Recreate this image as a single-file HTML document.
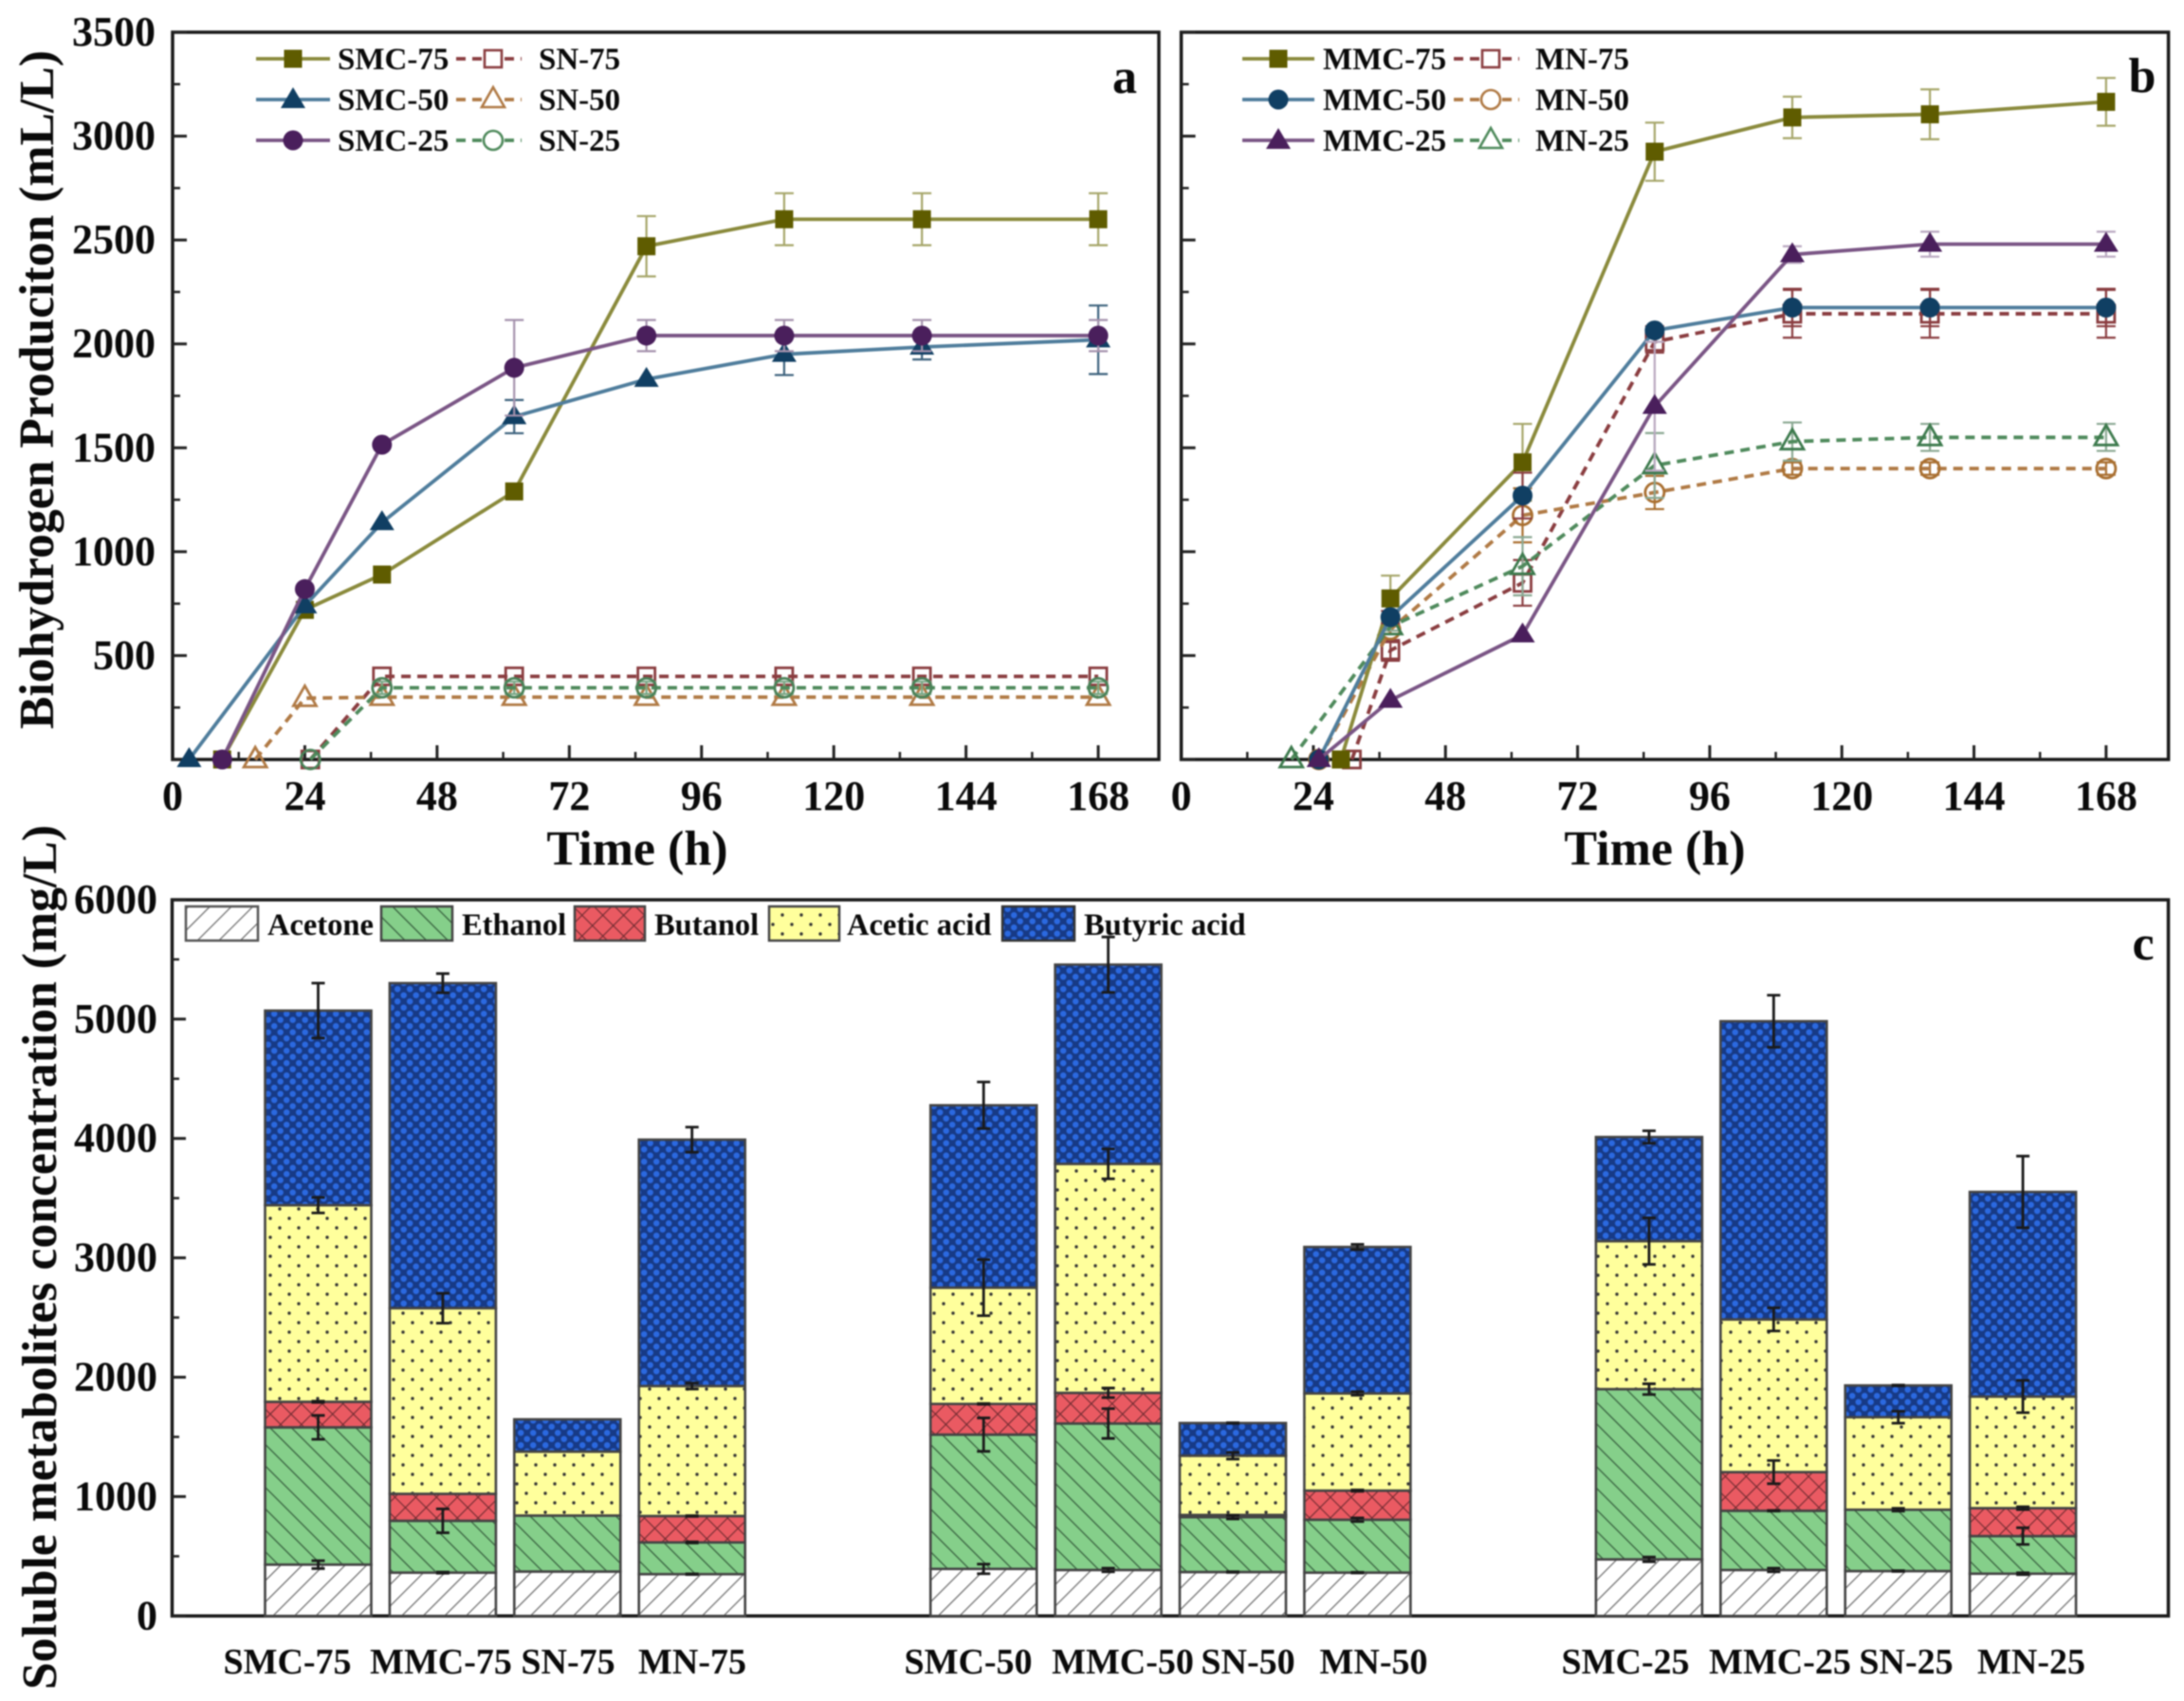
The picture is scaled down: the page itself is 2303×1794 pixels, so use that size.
<!DOCTYPE html>
<html lang="en">
<head>
<meta charset="utf-8">
<title>Biohydrogen production and soluble metabolites</title>
<style>
html,body{margin:0;padding:0;background:#fff;width:2303px;height:1794px;overflow:hidden}
svg{display:block;filter:blur(.9px)}
text{font-family:"Liberation Serif",serif;font-weight:bold;fill:#0a0a0a}
.leg{font-size:33px}
.cat{font-size:38px}
.tick{font-size:44px}
.ttl{font-size:52px}
.let{font-size:52px}
.lc{font-size:32.5px}
</style>
</head>
<body>
<svg id="chart" xmlns="http://www.w3.org/2000/svg" width="2303" height="1794" viewBox="0 0 2303 1794">
<defs>
  <pattern id="p-acetone" patternUnits="userSpaceOnUse" width="16" height="16" patternTransform="rotate(45)">
    <rect width="16" height="16" fill="#fff"/><line x1="0" y1="0" x2="0" y2="16" stroke="#666" stroke-width="2.4"/>
  </pattern>
  <pattern id="p-ethanol" patternUnits="userSpaceOnUse" width="16" height="16" patternTransform="rotate(-45)">
    <rect width="16" height="16" fill="#85cf8a"/><line x1="0" y1="0" x2="0" y2="16" stroke="#33593a" stroke-width="2.4"/>
  </pattern>
  <pattern id="p-butanol" patternUnits="userSpaceOnUse" width="15.5" height="15.5" patternTransform="rotate(45)">
    <rect width="15.5" height="15.5" fill="#ea5a62"/>
    <line x1="0" y1="0" x2="0" y2="15.5" stroke="#6d2a30" stroke-width="2.2"/>
    <line x1="0" y1="0" x2="15.5" y2="0" stroke="#6d2a30" stroke-width="2.2"/>
  </pattern>
  <pattern id="p-acetic" patternUnits="userSpaceOnUse" width="20" height="20">
    <rect width="20" height="20" fill="#ffff9c"/>
    <circle cx="5" cy="5" r="1.7" fill="#333"/><circle cx="15" cy="15" r="1.7" fill="#333"/>
  </pattern>
  <pattern id="p-butyric" patternUnits="userSpaceOnUse" width="13" height="13">
    <rect width="13" height="13" fill="#173a86"/>
    <circle cx="3.2" cy="3.2" r="3.2" fill="#2b69e0"/><circle cx="9.7" cy="9.7" r="3.2" fill="#2b69e0"/>
  </pattern>
</defs>

<g id="panelA">
  <rect x="182" y="34" width="1040" height="767" fill="#fff" stroke="#1a1a1a" stroke-width="3.5"/>
  <text class="ttl" transform="translate(56,411) rotate(-90)" text-anchor="middle" textLength="716" lengthAdjust="spacingAndGlyphs">Biohydrogen Produciton (mL/L)</text>
  <text class="ttl" x="672" y="912" text-anchor="middle">Time (h)</text>
  <text class="let" x="1186" y="98" text-anchor="middle">a</text>
</g>

<g id="panelB">
  <rect x="1245.6" y="34" width="1041" height="767" fill="#fff" stroke="#1a1a1a" stroke-width="3.5"/>
  <text class="ttl" x="1745" y="912" text-anchor="middle">Time (h)</text>
  <text class="let" x="2259" y="97" text-anchor="middle">b</text>
</g>

<g id="panelC">
  <rect x="181.5" y="949" width="2105" height="755.3" fill="#fff" stroke="#1a1a1a" stroke-width="3.5"/>
  <text class="ttl" transform="translate(59,1326) rotate(-90)" text-anchor="middle" textLength="912" lengthAdjust="spacingAndGlyphs">Soluble metabolites concentration (mg/L)</text>
  <text class="let" x="2260" y="1012" text-anchor="middle">c</text>
</g>

<g>
  <g><line x1="270" x2="348" y1="62" y2="62" stroke="#8a8a3c" stroke-width="3.8"/><rect x="299.5" y="52.5" width="19" height="19" fill="#5f5c00"/><text class="leg" x="356" y="73">SMC-75</text></g>
  <g><line x1="481" x2="550" y1="62" y2="62" stroke="#8a3d40" stroke-width="3.8" stroke-dasharray="10 7"/><rect x="511" y="53" width="18" height="18" fill="#fff" stroke="#8a3d40" stroke-width="2.6"/><text class="leg" x="568" y="73">SN-75</text></g>
  <g><line x1="270" x2="348" y1="105" y2="105" stroke="#4f7d9c" stroke-width="3.8"/><polygon points="309,92 322,114 296,114" fill="#103f63"/><text class="leg" x="356" y="116">SMC-50</text></g>
  <g><line x1="481" x2="550" y1="105" y2="105" stroke="#b07a45" stroke-width="3.8" stroke-dasharray="10 7"/><polygon points="520,92 532,113 508,113" fill="#fff" stroke="#b07a45" stroke-width="2.6"/><text class="leg" x="568" y="116">SN-50</text></g>
  <g><line x1="270" x2="348" y1="148" y2="148" stroke="#7a5585" stroke-width="3.8"/><circle cx="309" cy="148" r="10.5" fill="#4a1f5c"/><text class="leg" x="356" y="159">SMC-25</text></g>
  <g><line x1="481" x2="550" y1="148" y2="148" stroke="#4f8a5c" stroke-width="3.8" stroke-dasharray="10 7"/><circle cx="520" cy="148" r="10" fill="#fff" stroke="#4f8a5c" stroke-width="2.6"/><text class="leg" x="568" y="159">SN-25</text></g>
</g>

<g>
  <g><line x1="1310" x2="1386" y1="62" y2="62" stroke="#8a8a3c" stroke-width="3.8"/><rect x="1338.5" y="52.5" width="19" height="19" fill="#5f5c00"/><text class="leg" x="1395" y="73">MMC-75</text></g>
  <g><line x1="1533" x2="1602" y1="62" y2="62" stroke="#8a3d40" stroke-width="3.8" stroke-dasharray="10 7"/><rect x="1563" y="53" width="18" height="18" fill="#fff" stroke="#8a3d40" stroke-width="2.6"/><text class="leg" x="1619" y="73">MN-75</text></g>
  <g><line x1="1310" x2="1386" y1="105" y2="105" stroke="#4f7d9c" stroke-width="3.8"/><circle cx="1348" cy="105" r="10.5" fill="#103f63"/><text class="leg" x="1395" y="116">MMC-50</text></g>
  <g><line x1="1533" x2="1602" y1="105" y2="105" stroke="#b07a45" stroke-width="3.8" stroke-dasharray="10 7"/><circle cx="1572" cy="105" r="10" fill="#fff" stroke="#b07a45" stroke-width="2.6"/><text class="leg" x="1619" y="116">MN-50</text></g>
  <g><line x1="1310" x2="1386" y1="148" y2="148" stroke="#7a5585" stroke-width="3.8"/><polygon points="1348,135 1361,157 1335,157" fill="#4a1f5c"/><text class="leg" x="1395" y="159">MMC-25</text></g>
  <g><line x1="1533" x2="1602" y1="148" y2="148" stroke="#4f8a5c" stroke-width="3.8" stroke-dasharray="10 7"/><polygon points="1572,135 1584,156 1560,156" fill="#fff" stroke="#4f8a5c" stroke-width="2.6"/><text class="leg" x="1619" y="159">MN-25</text></g>
</g>

<g>
  <g><rect x="196" y="956" width="76" height="36" fill="url(#p-acetone)" stroke="#555" stroke-width="2.5"/><text class="lc" x="282" y="986">Acetone</text></g>
  <g><rect x="402" y="956" width="75" height="36" fill="url(#p-ethanol)" stroke="#444" stroke-width="2.5"/><text class="lc" x="487" y="986">Ethanol</text></g>
  <g><rect x="606" y="956" width="74" height="36" fill="url(#p-butanol)" stroke="#444" stroke-width="2.5"/><text class="lc" x="690" y="986">Butanol</text></g>
  <g><rect x="811" y="956" width="74" height="36" fill="url(#p-acetic)" stroke="#444" stroke-width="2.5"/><text class="lc" x="893" y="986">Acetic acid</text></g>
  <g><rect x="1057" y="956" width="76" height="36" fill="url(#p-butyric)" stroke="#333" stroke-width="2.5"/><text class="lc" x="1143" y="986">Butyric acid</text></g>
</g>
</svg>

<script>
// ---------- Panel a data ----------
const smc75Hours = [9, 24, 38, 62, 86, 111, 136, 168];
const smc75Values = [0, 720, 890, 1290, 2470, 2600, 2600, 2600];
const smc75Errors = [0, 0, 0, 0, 145, 125, 125, 125];
const smc50Hours = [3, 24, 38, 62, 86, 111, 136, 168];
const smc50Values = [0, 740, 1140, 1650, 1830, 1950, 1985, 2020];
const smc50Errors = [0, 0, 0, 80, 0, 100, 60, 165];
const smc25Hours = [9, 24, 38, 62, 86, 111, 136, 168];
const smc25Values = [0, 820, 1515, 1885, 2040, 2040, 2040, 2040];
const smc25Errors = [0, 0, 0, 230, 75, 75, 75, 75];
const sn75Hours = [25, 38, 62, 86, 111, 136, 168];
const sn75Values = [0, 400, 400, 400, 400, 400, 400];
const sn75Errors = [0, 0, 0, 0, 0, 0, 0];
const sn50Hours = [15, 24, 38, 62, 86, 111, 136, 168];
const sn50Values = [0, 295, 300, 300, 300, 300, 300, 300];
const sn50Errors = [0, 0, 0, 0, 0, 0, 0, 0];
const sn25Hours = [25, 38, 62, 86, 111, 136, 168];
const sn25Values = [0, 345, 345, 345, 345, 345, 345];
const sn25Errors = [0, 30, 30, 30, 30, 30, 30];

// ---------- Panel b data ----------
const mmc75Hours = [29, 38, 62, 86, 111, 136, 168];
const mmc75Values = [0, 775, 1430, 2925, 3090, 3105, 3165];
const mmc75Errors = [0, 110, 185, 140, 100, 120, 115];
const mmc50Hours = [25, 38, 62, 86, 111, 136, 168];
const mmc50Values = [0, 685, 1270, 2065, 2175, 2175, 2175];
const mmc50Errors = [0, 30, 110, 20, 90, 90, 90];
const mmc25Hours = [25, 38, 62, 86, 111, 136, 168];
const mmc25Values = [0, 285, 600, 1700, 2430, 2480, 2480];
const mmc25Errors = [0, 0, 0, 310, 40, 60, 60];
const mn75Hours = [31, 38, 62, 86, 111, 136, 168];
const mn75Values = [0, 525, 850, 2010, 2145, 2145, 2145];
const mn75Errors = [0, 50, 110, 52, 115, 115, 115];
const mn50Hours = [25, 38, 62, 86, 111, 136, 168];
const mn50Values = [0, 625, 1175, 1285, 1400, 1400, 1400];
const mn50Errors = [0, 20, 130, 80, 30, 30, 30];
const mn25Hours = [20, 38, 62, 86, 111, 136, 168];
const mn25Values = [0, 640, 930, 1415, 1530, 1550, 1550];
const mn25Errors = [0, 20, 140, 156, 92, 65, 65];

// ---------- Panel c data ----------
const barCategories = ['SMC-75','MMC-75','SN-75','MN-75','SMC-50','MMC-50','SN-50','MN-50','SMC-25','MMC-25','SN-25','MN-25'];
const acetoneValues = [430, 363, 372, 350, 394, 385, 368, 363, 474, 385, 376, 354];
const ethanolValues = [1150, 434, 469, 266, 1125, 1227, 460, 443, 1426, 496, 514, 315];
const butanolValues = [214, 226, 0, 221, 257, 257, 18, 244, 0, 324, 0, 234];
const aceticValues = [1647, 1555, 536, 1089, 974, 1918, 496, 814, 1240, 1279, 775, 935];
const butyricValues = [1630, 2723, 270, 2064, 1528, 1669, 274, 1227, 872, 2498, 266, 1714];
const acetoneErrors = [33, 5, 0, 3, 40, 15, 3, 3, 20, 15, 3, 8];
const ethanolErrors = [100, 100, 0, 5, 140, 125, 15, 15, 45, 3, 12, 70];
const butanolErrors = [5, 0, 0, 3, 3, 40, 0, 6, 0, 97, 0, 12];
const aceticErrors = [65, 125, 0, 25, 235, 125, 28, 15, 195, 97, 50, 135];
const butyricErrors = [230, 80, 0, 105, 195, 232, 3, 22, 52, 218, 3, 300];

// ---------- Tick labels ----------
const lineYTicks = [0, 500, 1000, 1500, 2000, 2500, 3000, 3500];
const lineYLabels = ['', '500', '1000', '1500', '2000', '2500', '3000', '3500'];
const timeTicks = [0, 24, 48, 72, 96, 120, 144, 168];
const barYTicks = [0, 1000, 2000, 3000, 4000, 5000, 6000];

const NS = 'http://www.w3.org/2000/svg';
function make(parent, tag, attrs, content) {
  const node = document.createElementNS(NS, tag);
  for (const key in attrs) node.setAttribute(key, attrs[key]);
  if (content !== undefined) node.textContent = content;
  parent.appendChild(node);
  return node;
}

// ---------- Axis functions ----------
const yLine = v => 801 - v * (767 / 3500);
const xTimeA = h => 182 + h * 5.81;
const xTimeB = h => 1245.6 + h * 5.805;
const yBar = v => 1704.3 - v * 0.1259;
const barCenter = i => 335.5 + (i % 4) * 131.4 + Math.floor(i / 4) * 701.7;
const catLabelCenter = i => [303, 465, 599, 730, 1021, 1184, 1316, 1448.5, 1714, 1877, 2010, 2142][i];

function drawTimeAxis(panel, xFn, left, prefix, showY) {
  const axis = make(panel, 'g', {});
  
  
  timeTicks.forEach((t, i) => {
    const x = xFn(t);
    if (t > 0) {
      const tk = make(axis, 'line', {x1: x, x2: x, y1: 801, y2: 786, stroke: '#222', 'stroke-width': 3});
      
      
      const mk = make(axis, 'line', {x1: xFn(t - 12), x2: xFn(t - 12), y1: 801, y2: 793, stroke: '#222', 'stroke-width': 2.5});
      
      
    }
    const lb = make(axis, 'text', {x: x, y: 854, 'text-anchor': 'middle', 'class': 'tick'}, String(t));
    
    
  });
  lineYTicks.forEach((v, i) => {
    const y = yLine(v);
    const tk = make(axis, 'line', {x1: left, x2: left + 15, y1: y, y2: y, stroke: '#222', 'stroke-width': 3});
    
    
    if (i < lineYTicks.length - 1) {
      const my = yLine(v + 250);
      const mk = make(axis, 'line', {x1: left, x2: left + 8, y1: my, y2: my, stroke: '#222', 'stroke-width': 2.5});
      
      
    }
    if (showY && lineYLabels[i]) {
      const lb = make(axis, 'text', {x: 164, y: y + 14, 'text-anchor': 'end', 'class': 'tick'}, lineYLabels[i]);
      
      
    }
  });
}

function drawMarker(g, shape, cx, cy, color, hollow) {
  const fill = hollow ? 'none' : color;
  const stroke = hollow ? color : 'none';
  const sw = hollow ? 2.8 : 0;
  if (shape === 'square') {
    const s = hollow ? 18 : 19;
    return make(g, 'rect', {x: cx - s / 2, y: cy - s / 2, width: s, height: s, fill: fill, stroke: stroke, 'stroke-width': sw});
  }
  if (shape === 'circle') {
    return make(g, 'circle', {cx: cx, cy: cy, r: hollow ? 10 : 10.5, fill: fill, stroke: stroke, 'stroke-width': sw});
  }
  const h = hollow ? 12 : 13;
  return make(g, 'polygon', {points: `${cx},${cy - 13} ${cx + h},${cy + 8} ${cx - h},${cy + 8}`, fill: fill, stroke: stroke, 'stroke-width': sw});
}

function drawSeries(panel, xFn, name, hours, values, errors, lineColor, markColor, errColor, shape, hollow) {
  const g = make(panel, 'g', {});
  
  
  const pts = hours.map((h, i) => xFn(h) + ',' + yLine(values[i])).join(' ');
  hours.forEach((h, i) => {
    if (!errors[i]) return;
    const x = xFn(h), y1 = yLine(values[i] + errors[i]), y2 = yLine(values[i] - errors[i]);
    const eb = make(g, 'path', {d: `M${x - 10} ${y1}H${x + 10}M${x} ${y1}V${y2}M${x - 10} ${y2}H${x + 10}`, fill: 'none', stroke: errColor, 'stroke-width': 2.2});
    
    
  });
  const attrs = {points: pts, fill: 'none', stroke: lineColor, 'stroke-width': 3.8};
  if (hollow) attrs['stroke-dasharray'] = '10 7';
  const line = make(g, 'polyline', attrs);
  
  
  hours.forEach((h, i) => {
    const m = drawMarker(g, shape, xFn(h), yLine(values[i]), markColor, hollow);
    
    
  });
}

const panelA = document.getElementById('panelA');
const panelB = document.getElementById('panelB');
const panelC = document.getElementById('panelC');

drawTimeAxis(panelA, xTimeA, 182, 'panel-a', true);
drawTimeAxis(panelB, xTimeB, 1245.6, 'panel-b', false);

drawSeries(panelA, xTimeA, 'sn-75', sn75Hours, sn75Values, sn75Errors, '#8a3d40', '#8a3d40', '#a06a6c', 'square', true);
drawSeries(panelA, xTimeA, 'sn-50', sn50Hours, sn50Values, sn50Errors, '#b07a45', '#b07a45', '#c49a70', 'triangle', true);
drawSeries(panelA, xTimeA, 'sn-25', sn25Hours, sn25Values, sn25Errors, '#4f8a5c', '#4a8258', '#7aa886', 'circle', true);
drawSeries(panelA, xTimeA, 'smc-75', smc75Hours, smc75Values, smc75Errors, '#8a8a3c', '#5f5c00', '#a6a66a', 'square', false);
drawSeries(panelA, xTimeA, 'smc-50', smc50Hours, smc50Values, smc50Errors, '#4f7d9c', '#103f63', '#3d627d', 'triangle', false);
drawSeries(panelA, xTimeA, 'smc-25', smc25Hours, smc25Values, smc25Errors, '#7a5585', '#4a1f5c', '#a592ad', 'circle', false);

drawSeries(panelB, xTimeB, 'mn-75', mn75Hours, mn75Values, mn75Errors, '#8a3d40', '#8a3d40', '#8a3d40', 'square', true);
drawSeries(panelB, xTimeB, 'mn-50', mn50Hours, mn50Values, mn50Errors, '#b07a45', '#a96f30', '#a96f30', 'circle', true);
drawSeries(panelB, xTimeB, 'mn-25', mn25Hours, mn25Values, mn25Errors, '#4f8a5c', '#3d7a4d', '#8aa892', 'triangle', true);
drawSeries(panelB, xTimeB, 'mmc-75', mmc75Hours, mmc75Values, mmc75Errors, '#8a8a3c', '#5f5c00', '#a6a66a', 'square', false);
drawSeries(panelB, xTimeB, 'mmc-50', mmc50Hours, mmc50Values, mmc50Errors, '#4f7d9c', '#103f63', '#8a3d40', 'circle', false);
drawSeries(panelB, xTimeB, 'mmc-25', mmc25Hours, mmc25Values, mmc25Errors, '#7a5585', '#4a1f5c', '#b9a8c0', 'triangle', false);

// ---------- Panel c ----------
const stackLayers = [
  ['acetone', acetoneValues, acetoneErrors, 'url(#p-acetone)'],
  ['ethanol', ethanolValues, ethanolErrors, 'url(#p-ethanol)'],
  ['butanol', butanolValues, butanolErrors, 'url(#p-butanol)'],
  ['acetic-acid', aceticValues, aceticErrors, 'url(#p-acetic)'],
  ['butyric-acid', butyricValues, butyricErrors, 'url(#p-butyric)']
];

barYTicks.forEach((v, i) => {
  const y = yBar(v);
  const tk = make(panelC, 'line', {x1: 181.5, x2: 196, y1: y, y2: y, stroke: '#222', 'stroke-width': 3});
  
  
  if (i < barYTicks.length - 1) {
    const my = yBar(v + 500);
    const mk = make(panelC, 'line', {x1: 181.5, x2: 189, y1: my, y2: my, stroke: '#222', 'stroke-width': 2.5});
    
    
  }
  const lb = make(panelC, 'text', {x: 166, y: y + 14, 'text-anchor': 'end', 'class': 'tick'}, String(v));
  
  
});

const errorMarks = [];
barCategories.forEach((cat, i) => {
  const cx = barCenter(i);
  const g = make(panelC, 'g', {});
  
  
  let base = 0;
  stackLayers.forEach(layer => {
    const val = layer[1][i];
    const top = base + val;
    if (val > 0) {
      const seg = make(g, 'rect', {x: cx - 56, y: yBar(top), width: 112, height: yBar(base) - yBar(top), fill: layer[3], stroke: '#444', 'stroke-width': 2.6});
      
      
    }
    if (layer[2][i] > 0) errorMarks.push([cx, top, layer[2][i], layer[0], cat]);
    base = top;
  });
  const lb = make(panelC, 'text', {x: catLabelCenter(i), y: 1765, 'text-anchor': 'middle', 'class': 'cat'}, cat);
  
  
});
errorMarks.forEach(e => {
  const y1 = yBar(e[1] + e[2]), y2 = yBar(e[1] - e[2]), x = e[0];
  const eb = make(panelC, 'path', {d: `M${x - 7} ${y1}H${x + 7}M${x} ${y1}V${y2}M${x - 7} ${y2}H${x + 7}`, fill: 'none', stroke: '#1a1a1a', 'stroke-width': 2.8});
  
  
});
</script>
</body>
</html>
